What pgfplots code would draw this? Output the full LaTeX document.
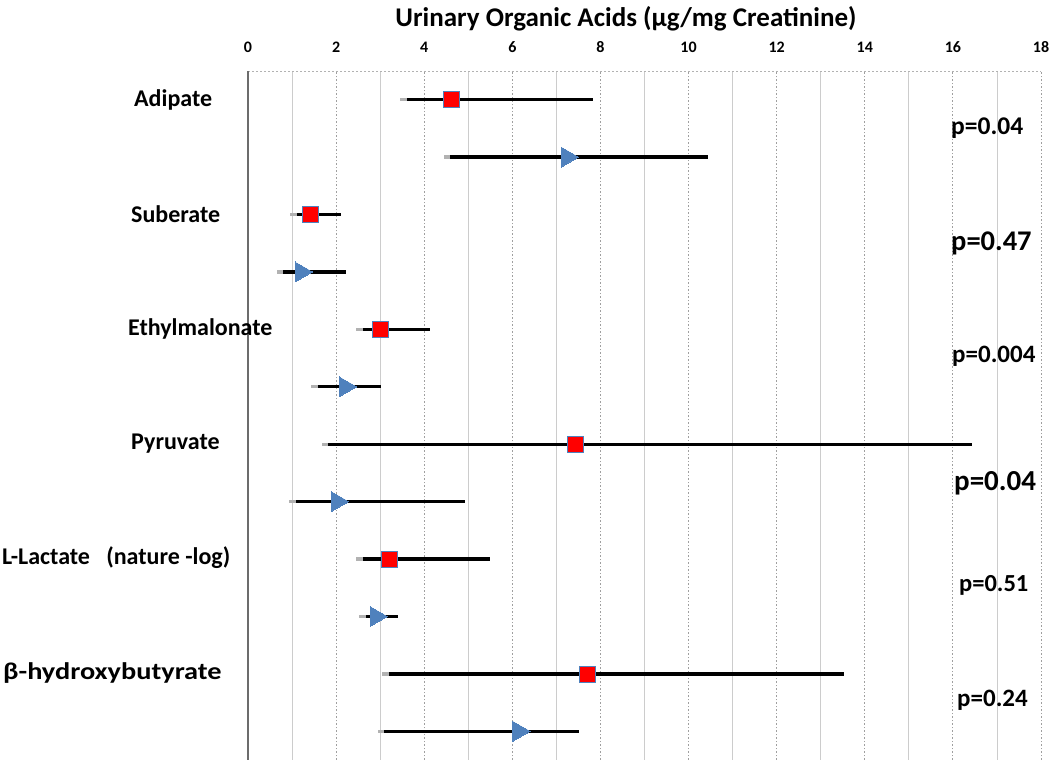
\documentclass[border=0pt]{standalone}
\usepackage{fontspec}
\setmainfont{Carlito}
\usepackage{graphicx}
\usepackage{pgfplots}
\pgfplotsset{compat=1.18}
\usepackage{pgfplotstable}

\definecolor{exblue}{HTML}{4F81BD}
\definecolor{exred}{HTML}{FF0000}

% y: row position (negative downward), x: marker value, lo/hi: range
\pgfplotstableread{
y x lo hi
0 4.61 3.61 7.82
-2 1.41 1.11 2.11
-4 3.01 2.61 4.14
-6 7.43 1.82 16.43
-8 3.20 2.61 5.50
-10 7.70 3.20 13.52
}\redtab
\pgfplotstableread{
y x lo hi
-1 7.24 4.59 10.43
-3 1.20 0.80 2.23
-5 2.20 1.59 3.02
-7 2.02 1.09 4.93
-9 2.90 2.68 3.41
-11 6.14 3.09 7.52
}\bluetab

\begin{document}
\begin{tikzpicture}
\useasboundingbox (-248pt,-2pt) rectangle (802pt,760pt);
\begin{axis}[
  scale only axis, width=793pt, height=689pt,
  anchor=south west, at={(0pt,0pt)},
  xmin=0, xmax=18, ymin=-11.5, ymax=0.5,
  axis line style={draw=none},
  xtick={0,2,...,18}, minor xtick={1,3,...,17},
  xticklabel pos=right,
  major tick length=0pt, minor tick length=0pt,
  ytick=\empty,
  xmajorgrids, xminorgrids,
  major grid style={gray!75, dash pattern=on 1.5pt off 2pt, line width=0.8pt},
  minor grid style={gray!40, line width=0.9pt},
  xticklabel style={font=\bfseries\fontsize{16}{16}\selectfont, yshift=15pt},
  /pgf/number format/assume math mode=true,
  clip=false,
]
\draw[gray!60, dash pattern=on 2pt off 2pt, line width=0.8pt] (rel axis cs:0,1) -- (rel axis cs:1,1);
\draw[gray!85!black, line width=1.3pt] (rel axis cs:0,0) -- (rel axis cs:0,1);

% soft grey start of each range line
\addplot[only marks, mark=none,
  error bars/.cd, x dir=both, x explicit,
  error mark=none, error bar style={line width=3.4pt, black!30}]
  table[x=x, y=y, x error plus expr=\thisrow{hi}-\thisrow{x}, x error minus expr=\thisrow{x}-\thisrow{lo}+0.15] {\redtab};
\addplot[only marks, mark=none,
  error bars/.cd, x dir=both, x explicit,
  error mark=none, error bar style={line width=3.4pt, black!30}]
  table[x=x, y=y, x error plus expr=\thisrow{hi}-\thisrow{x}, x error minus expr=\thisrow{x}-\thisrow{lo}+0.15] {\bluetab};

\addplot[only marks, mark=none,
  error bars/.cd, x dir=both, x explicit,
  error mark=none, error bar style={line width=3.4pt, black}]
  table[x=x, y=y, x error plus expr=\thisrow{hi}-\thisrow{x}, x error minus expr=\thisrow{x}-\thisrow{lo}] {\redtab};
\addplot[only marks, mark=none,
  error bars/.cd, x dir=both, x explicit,
  error mark=none, error bar style={line width=3.4pt, black}]
  table[x=x, y=y, x error plus expr=\thisrow{hi}-\thisrow{x}, x error minus expr=\thisrow{x}-\thisrow{lo}] {\bluetab};

\addplot[only marks, mark=square*, mark size=8pt,
  mark options={fill=exred, draw=exblue, line width=0.6pt}]
  table[x=x, y=y] {\redtab};
\addplot[only marks, mark=triangle*, mark size=11.5pt,
  mark options={fill=exblue, draw=exblue, rotate=-90, line width=0pt}]
  table[x=x, y=y] {\bluetab};
\end{axis}

% title (pixel -> pt: x-248, 760-y)
\node[font=\bfseries\fontsize{27}{27}\selectfont] at (378pt,741pt) {Urinary Organic Acids (µg/mg Creatinine)};

\begin{scope}[every node/.style={font=\bfseries\fontsize{24}{24}\selectfont, anchor=west, inner sep=0pt}]
\node at (-114pt,660pt) {Adipate};
\node at (-117pt,546pt) {Suberate};
\node at (-120pt,431pt) {Ethylmalonate};
\node at (-117pt,316pt) {Pyruvate};
\node at (-246pt,202pt) {L-Lactate\ \ \ (nature -log)};
\node at (-245pt,87pt) {\scalebox{1.18}[1]{β-hydroxybutyrate}};
\end{scope}

\begin{scope}[every node/.style={anchor=west, inner sep=0pt}]
\node[font=\bfseries\fontsize{25.5}{25.5}\selectfont] at (703pt,632pt) {p=0.04};
\node[font=\bfseries\fontsize{28.5}{28.5}\selectfont] at (703pt,517pt) {p=0.47};
\node[font=\bfseries\fontsize{25}{25}\selectfont] at (704pt,404pt) {p=0.004};
\node[font=\bfseries\fontsize{29}{29}\selectfont] at (706pt,277pt) {p=0.04};
\node[font=\bfseries\fontsize{24.5}{24.5}\selectfont] at (711pt,175pt) {p=0.51};
\node[font=\bfseries\fontsize{25}{25}\selectfont] at (709pt,60pt) {p=0.24};
\end{scope}
\end{tikzpicture}
\end{document}
